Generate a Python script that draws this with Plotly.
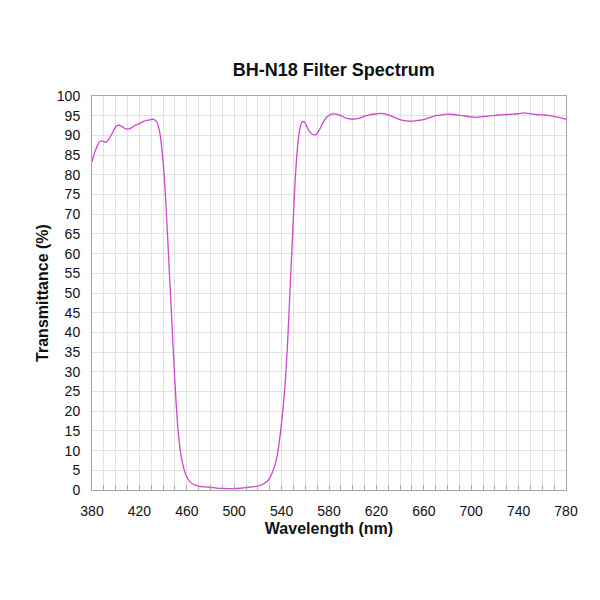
import plotly.graph_objects as go

wavelength = [380, 382, 384, 386, 388, 390, 392, 394, 397, 400, 402, 405, 408, 412, 416, 420, 424, 428, 431, 433,
              435, 437, 439, 441, 443, 445, 447, 449, 451, 453, 455, 457, 459, 461, 463, 466, 470, 475, 480, 485,
              490, 495, 500, 505, 510, 515, 520, 525, 529, 532, 535, 537, 539, 541, 543, 545, 547, 549, 551, 553,
              555, 557, 559, 561, 563, 566, 569, 572, 575, 578, 582, 586, 590, 595, 600, 605, 610, 615, 620, 625,
              630, 635, 640, 645, 650, 655, 660, 665, 670, 675, 680, 685, 690, 695, 700, 705, 710, 715, 720, 725,
              730, 735, 740, 745, 750, 755, 760, 765, 770, 775, 780]
transmittance = [83.3, 85.5, 87.0, 88.3, 88.6, 88.4, 88.3, 88.9, 90.5, 92.2, 92.6, 92.3, 91.7, 91.7, 92.5, 93.0, 93.6, 93.9, 94.1, 93.9,
                 93.2, 91.0, 86.5, 79.5, 69.0, 57.0, 45.0, 33.0, 22.0, 14.0, 9.0, 6.0, 4.0, 2.8, 2.0, 1.4, 1.0, 0.8, 0.7, 0.5,
                 0.4, 0.35, 0.35, 0.45, 0.6, 0.8, 1.0, 1.6, 2.6, 4.3, 7.0, 10.0, 14.5, 20.0, 27.0, 37.0, 50.0, 63.0, 76.0, 85.5,
                 91.0, 93.3, 93.5, 92.5, 91.2, 90.3, 90.2, 91.5, 93.3, 94.6, 95.4, 95.4, 95.0, 94.3, 94.1, 94.3, 94.9, 95.3, 95.5, 95.6,
                 95.2, 94.6, 94.0, 93.7, 93.6, 93.8, 94.0, 94.5, 95.0, 95.2, 95.4, 95.3, 95.1, 94.9, 94.7, 94.6, 94.8, 94.9, 95.1, 95.2,
                 95.3, 95.4, 95.5, 95.7, 95.5, 95.3, 95.2, 95.1, 94.8, 94.5, 94.1]

x_grid = list(range(380, 781, 10))
x_labels = [str(v) if (v - 380) % 40 == 0 else "" for v in x_grid]
y_ticks = list(range(0, 101, 5))

fig = go.Figure(
    go.Scatter(
        x=wavelength,
        y=transmittance,
        mode="lines",
        line=dict(color="#cf45cf", width=1.3, shape="spline", smoothing=0.6),
        hoverinfo="x+y",
    )
)

# page body has an 8px margin, so everything is set 8px up/left of the reference
fig.update_layout(
    width=600,
    height=600,
    paper_bgcolor="white",
    plot_bgcolor="white",
    showlegend=False,
    margin=dict(l=84, r=42, t=88, b=118),
    font=dict(family="Arial, Liberation Sans, sans-serif", size=14, color="#111111"),
    title=dict(
        text="<b>BH-N18 Filter Spectrum</b>",
        xref="paper",
        x=0.51,
        xanchor="center",
        y=0.897,
        yanchor="middle",
        font=dict(size=18, color="#111111"),
    ),
    xaxis=dict(
        range=[380, 780],
        tickvals=x_grid,
        ticktext=x_labels,
        ticks="inside",
        ticklen=5,
        tickcolor="#aaaaaa",
        ticklabelstandoff=8,
        showgrid=True,
        gridcolor="#e2e2e2",
        gridwidth=1,
        showline=True,
        linecolor="#a6a6a6",
        mirror=True,
        zeroline=False,
        title=dict(text="<b>Wavelength (nm)</b>", font=dict(size=16), standoff=5),
        tickfont=dict(size=14),
    ),
    yaxis=dict(
        range=[0, 100],
        tickvals=y_ticks,
        ticks="",
        ticklabelstandoff=8,
        showgrid=True,
        gridcolor="#e2e2e2",
        gridwidth=1,
        showline=True,
        linecolor="#a6a6a6",
        mirror=True,
        zeroline=False,
        title=dict(text="<b>Transmittance (%)</b>", font=dict(size=16), standoff=4),
        tickfont=dict(size=14),
    ),
)

fig.write_html("out.html")
